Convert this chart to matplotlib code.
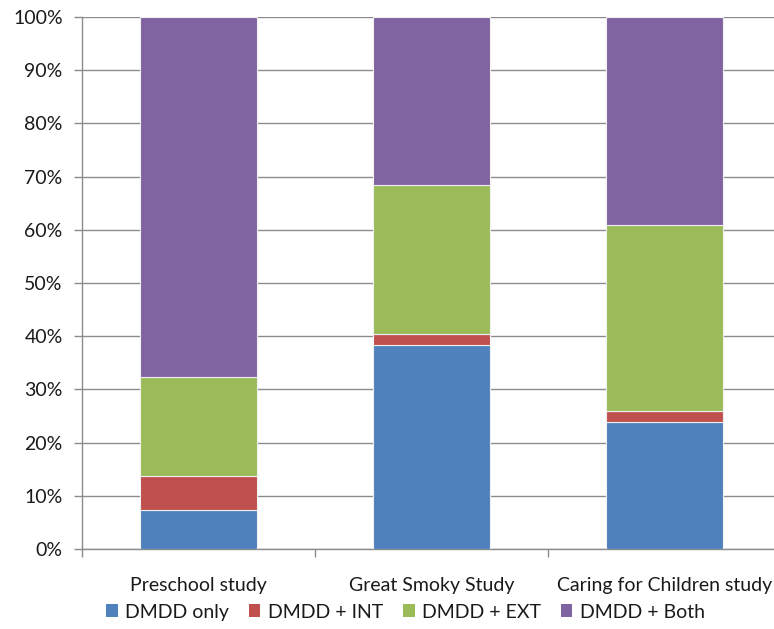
import matplotlib.pyplot as plt
import numpy as np
from matplotlib.patches import Patch

plt.rcParams['font.family'] = ['Lato', 'DejaVu Sans']

studies = ["Preschool study", "Great Smoky Study", "Caring for Children study"]
series = ["DMDD only", "DMDD + INT", "DMDD + EXT", "DMDD + Both"]
colors = ["#4F81BD", "#C0504D", "#9BBB59", "#8064A2"]

dmdd_only = [7.4, 38.3, 23.9]
dmdd_int = [6.4, 2.1, 2.0]
dmdd_ext = [18.5, 28.1, 35.0]
dmdd_both = [67.7, 31.5, 39.1]

values = [dmdd_only, dmdd_int, dmdd_ext, dmdd_both]

fig = plt.figure(figsize=(7.74, 6.29), dpi=100)
ax = fig.add_axes([0.106, 0.127, 0.903, 0.846])

x = np.arange(len(studies))
bottom = np.zeros(len(studies))
for vals, name, col in zip(values, series, colors):
    ax.bar(x, vals, width=0.5, bottom=bottom, color=col, label=name,
           edgecolor="#f0f0f0", linewidth=0.8, zorder=3)
    bottom += np.array(vals)

ax.set_xlim(-0.5, 2.5)
ax.set_ylim(0, 100)
ax.set_yticks(np.arange(0, 101, 10))
ax.set_yticklabels([f"{v}%" for v in range(0, 101, 10)], fontsize=14, color="#1a1a1a")
ax.yaxis.grid(True, color="#8c8c8c", linewidth=1, zorder=0)

ax.set_xticks(x)
ax.set_xticklabels(studies, fontsize=14, color="#1a1a1a")
ax.set_xticks([-0.5, 0.5, 1.5, 2.5], minor=True)
ax.tick_params(axis="x", which="major", length=0, pad=20)
ax.tick_params(axis="x", which="minor", length=6, color="#8c8c8c", width=1)
ax.tick_params(axis="y", length=6, color="#8c8c8c", width=1, pad=8)

for side in ["top", "right"]:
    ax.spines[side].set_visible(False)
for side in ["left", "bottom"]:
    ax.spines[side].set_color("#8c8c8c")
    ax.spines[side].set_linewidth(1)

handles = [Patch(facecolor=c, label=s) for s, c in zip(series, colors)]
fig.legend(handles=handles, loc="center", bbox_to_anchor=(0.524, 0.027), ncol=4,
           frameon=False, fontsize=14, handlelength=0.6, handleheight=0.6,
           handletextpad=0.4, columnspacing=1.0, labelcolor="#1a1a1a")

fig.savefig("out.png", dpi=100)
